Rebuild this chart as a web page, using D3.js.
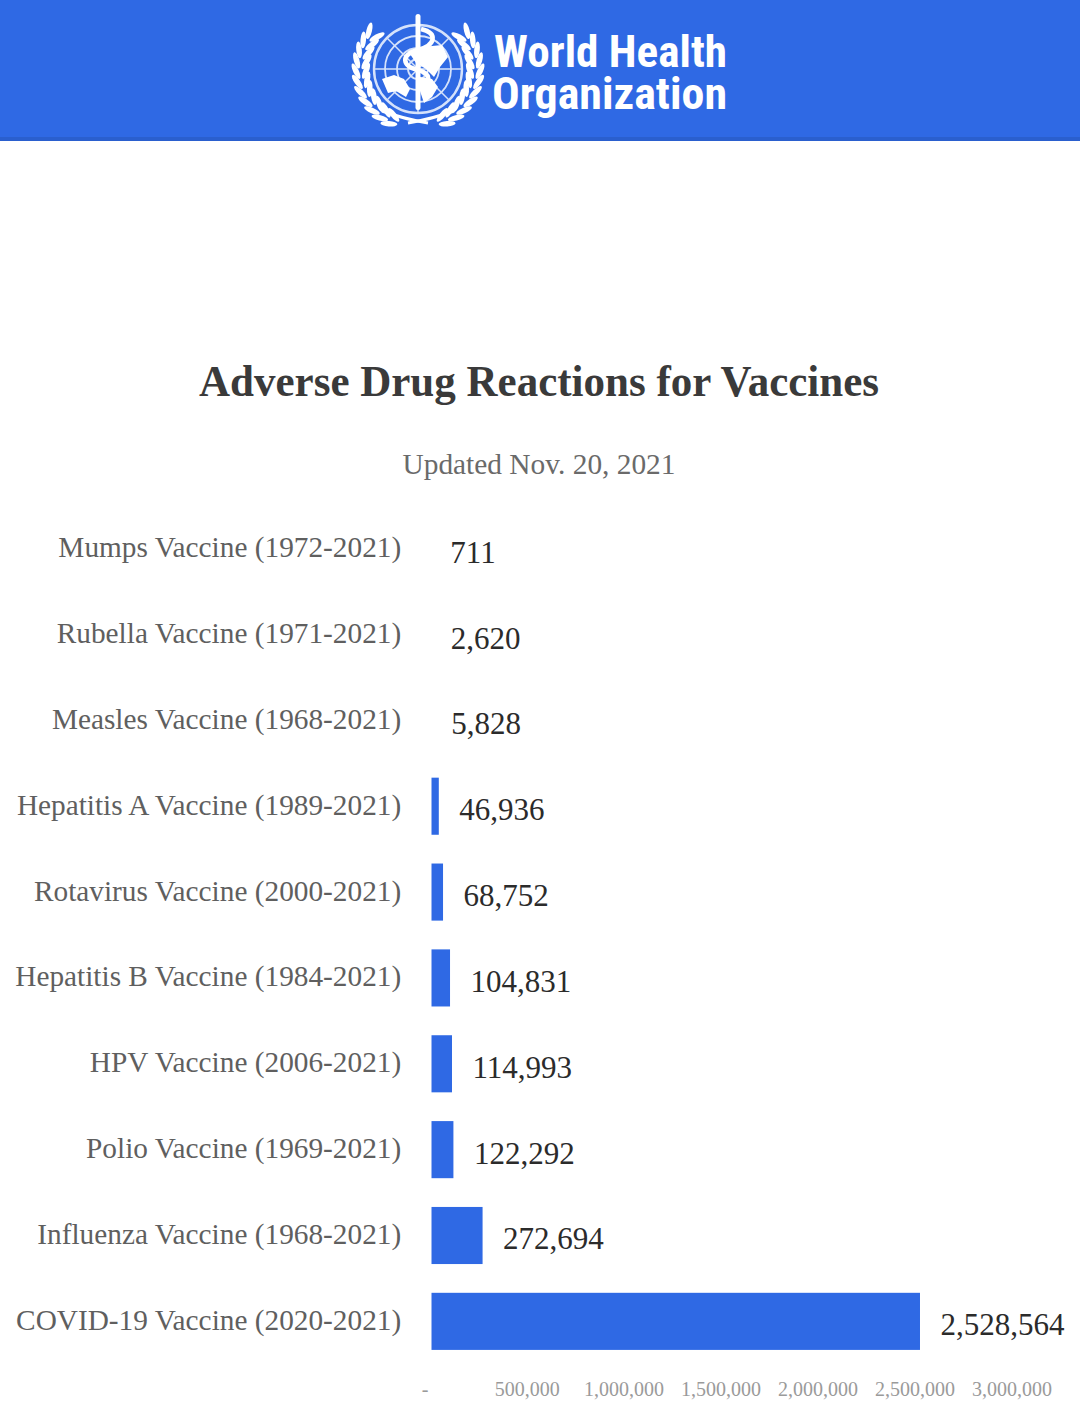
<!DOCTYPE html>
<html><head><meta charset="utf-8">
<script src="https://cdn.jsdelivr.net/npm/d3@7/dist/d3.min.js"></script>
<style>html,body{margin:0;padding:0;background:#fff}svg{display:block}
.serif{font-family:"Liberation Serif",serif}</style></head><body>
<svg id="c" width="1080" height="1411"></svg>
<script>
const categories=["Mumps Vaccine (1972-2021)","Rubella Vaccine (1971-2021)","Measles Vaccine (1968-2021)","Hepatitis A Vaccine (1989-2021)","Rotavirus Vaccine (2000-2021)","Hepatitis B Vaccine (1984-2021)","HPV Vaccine (2006-2021)","Polio Vaccine (1969-2021)","Influenza Vaccine (1968-2021)","COVID-19 Vaccine (2020-2021)"];
const values=[711,2620,5828,46936,68752,104831,114993,122292,272694,2528564];
const tickValues=[0,500000,1000000,1500000,2000000,2500000,3000000];
const BLUE="#2f69e4";
const svg=d3.select("#c");
svg.append("rect").attr("width",1080).attr("height",141).attr("fill",BLUE);
svg.append("rect").attr("y",137).attr("width",1080).attr("height",4).attr("fill","#2a5fce");

// WHO logo
const logo=svg.append("g").attr("transform","translate(418,69)");
const W="#fff", R="#d5e2fb";
[44,33,21,10].forEach(r=>logo.append("circle").attr("r",r).attr("fill","none").attr("stroke",R).attr("stroke-width",r==44?2.4:1.8));
logo.append("path").attr("d","M-44 0H44M0 -44V44M-31 -31L31 31M31 -31L-31 31").attr("stroke",R).attr("stroke-width",1.5);
logo.append("path").attr("fill",W).attr("d","M-36 10 L-24 6 L-14 10 L-8 20 L-12 28 L-22 22 L-30 24 Z M-10 -18 L4 -22 L24 -24 L30 -12 L22 -2 L16 8 L8 0 L-2 -6 Z M2 8 L14 10 L20 18 L14 28 L6 34 L2 22 Z");
logo.append("rect").attr("x",-2.5).attr("y",-55).attr("width",5).attr("height",96).attr("rx",2.5).attr("fill",W);
logo.append("path").attr("fill","none").attr("stroke",W).attr("stroke-width",4.5).attr("d","M3 -40 C20 -36 18 -24 0 -19 C-18 -14 -16 -3 0 1 C15 5 13 15 0 20");
const wreathAngles=[52,62,72,82,92,102,112,122,132,142,152];
[1,-1].forEach(s=>{
  const side=logo.append("g").attr("transform",`scale(${s},1)`);
  wreathAngles.forEach(a=>{
    [[52,-24],[62,24]].forEach(([r,tilt])=>{
      const t=a*Math.PI/180;
      side.append("ellipse").attr("rx",8.5).attr("ry",2.8).attr("fill",W)
        .attr("transform",`translate(${r*Math.sin(t)},${-r*Math.cos(t)}) rotate(${a+tilt})`);
    });
  });
  side.append("path").attr("fill","none").attr("stroke",W).attr("stroke-width",3).attr("d","M36 42 Q14 50 -10 54");
});
const lt=svg.append("g").style("font-family","'Liberation Sans Narrow','Roboto Condensed','Liberation Sans',sans-serif").style("font-weight",700).attr("fill",W).style("font-size","45px");
lt.append("text").text("World Health").attr("x",494).attr("y",67).attr("textLength",233).attr("lengthAdjust","spacingAndGlyphs");
lt.append("text").text("Organization").attr("x",492).attr("y",109).attr("textLength",235).attr("lengthAdjust","spacingAndGlyphs");

// Titles
svg.append("text").attr("class","serif").text("Adverse Drug Reactions for Vaccines").attr("x",539).attr("y",396).attr("text-anchor","middle")
  .attr("fill","#3a3a3a").style("font-size","44px").style("font-weight",700).attr("textLength",680).attr("lengthAdjust","spacingAndGlyphs");
svg.append("text").attr("class","serif").text("Updated Nov. 20, 2021").attr("x",539).attr("y",474).attr("text-anchor","middle")
  .attr("fill","#6a6a6a").style("font-size","29px").attr("textLength",273).attr("lengthAdjust","spacingAndGlyphs");

// Scales
const x=d3.scaleLinear().domain([0,3000000]).range([429.7,1011.4]);
const y=d3.scaleBand().domain(categories).range([505.5,1364.5]).paddingInner(0.335).paddingOuter(0.17);

svg.append("g").selectAll("rect").data(values).join("rect")
  .attr("x",x(0)).attr("y",(d,i)=>y(categories[i])).attr("width",d=>x(d)-x(0)).attr("height",y.bandwidth()).attr("fill",BLUE);

// Category axis: its white spine trims the bars' left edge as in the source
const yAxis=svg.append("g").attr("transform",`translate(${x(0)},0)`).call(d3.axisLeft(y).tickSize(0).tickPadding(28.5));
yAxis.select(".domain").attr("stroke","#fff").attr("stroke-width",2.6);
yAxis.selectAll("text").attr("dy",8.5).attr("fill","#5f5f5f").style("font-family","'Liberation Serif',serif").style("font-size","29.3px");

svg.append("g").selectAll("text").data(values).join("text").attr("class","serif")
  .attr("x",d=>x(d)+20.5).attr("y",(d,i)=>y(categories[i])+y.bandwidth()/2+14).attr("fill","#2b2b2b").style("font-size","31px").text(d=>d3.format(",")(d));

const axis=d3.axisBottom(x).tickValues(tickValues).tickSize(0).tickPadding(0).tickFormat(d=>d===0?"-":d3.format(",")(d));
const ax=svg.append("g").attr("transform","translate(0,1382)").call(axis);
ax.select(".domain").remove();
ax.selectAll("text").attr("fill","#9a9a9a").style("font-family","'Liberation Serif',serif").style("font-size","20px");
ax.selectAll("text").filter(d=>d===0).attr("dx",-5);
</script></body></html>
